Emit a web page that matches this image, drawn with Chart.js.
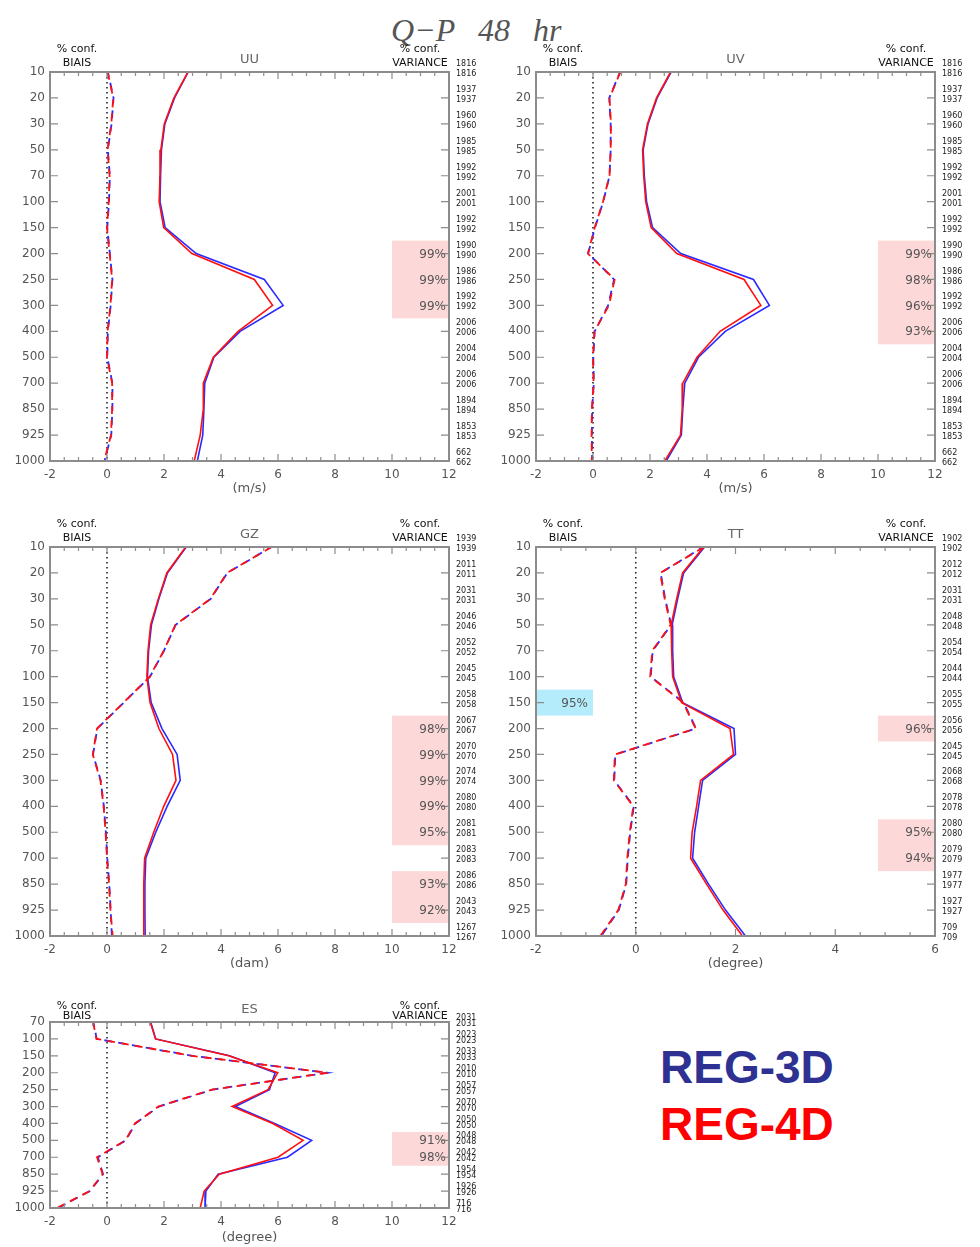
<!DOCTYPE html>
<html>
<head>
<meta charset="utf-8">
<script src="https://cdn.jsdelivr.net/npm/chart.js@4.4.1/dist/chart.umd.min.js"></script>
<style>
  body { margin: 0; background: #fff; }
  #page { position: relative; width: 980px; height: 1247px; overflow: hidden; background: #fff; }
  #page canvas { position: absolute; }
  .ttl { position: absolute; top: 14px; font: italic 32px "Liberation Serif", serif; color: #555; line-height: 32px; white-space: pre; }
  .leg { position: absolute; left: 660px; font: bold 46px "Liberation Sans", Arial, sans-serif; line-height: 46px; }
</style>
</head>
<body>
<div id="page">
  <div class="ttl" style="left:391px">Q−P</div>
  <div class="ttl" style="left:478px">48</div>
  <div class="ttl" style="left:533px">hr</div>
  <div class="leg" style="top:1044px;color:#2e3192">REG-3D</div>
  <div class="leg" style="top:1101px;color:#ff0000">REG-4D</div>
</div>
<script>
// pressure levels (tick labels)
const levels = ['10', '20', '30', '50', '70', '100', '150', '200', '250', '300', '400', '500', '700', '850', '925', '1000'];
const levelsES = ['70', '100', '150', '200', '250', '300', '400', '500', '700', '850', '925', '1000'];

// UU
const uuBias3d = [0.03, 0.23, 0.16, 0.03, 0.10, 0.07, 0.01, 0.10, 0.19, 0.13, 0.03, 0.01, 0.19, 0.19, 0.15, -0.09];
const uuBias4d = [0.02, 0.22, 0.15, 0.02, 0.09, 0.06, 0.00, 0.09, 0.18, 0.12, 0.02, 0.00, 0.18, 0.18, 0.14, -0.10];
const uuStd3d = [2.85, 2.37, 2.03, 1.91, 1.88, 1.86, 2.04, 3.13, 5.52, 6.18, 4.67, 3.75, 3.43, 3.40, 3.36, 3.17];
const uuStd4d = [2.84, 2.35, 2.01, 1.89, 1.86, 1.83, 1.99, 2.98, 5.17, 5.81, 4.60, 3.73, 3.38, 3.38, 3.27, 3.06];
const uuCounts = [1816, 1937, 1960, 1985, 1992, 2001, 1992, 1990, 1986, 1992, 2006, 2004, 2006, 1894, 1853, 662];
const uuVarConf = [null, null, null, null, null, null, null, 99, 99, 99, null, null, null, null, null, null];

// UV
const uvBias3d = [0.95, 0.57, 0.62, 0.62, 0.58, 0.36, 0.07, -0.17, 0.74, 0.53, 0.06, 0.01, 0.03, -0.03, -0.04, -0.03];
const uvBias4d = [0.96, 0.58, 0.63, 0.62, 0.58, 0.35, 0.06, -0.18, 0.76, 0.56, 0.05, 0.00, 0.02, -0.04, -0.05, -0.04];
const uvStd3d = [2.74, 2.25, 1.93, 1.76, 1.80, 1.88, 2.09, 3.08, 5.63, 6.19, 4.64, 3.70, 3.22, 3.15, 3.10, 2.57];
const uvStd4d = [2.72, 2.23, 1.91, 1.74, 1.78, 1.85, 2.04, 2.94, 5.30, 5.89, 4.46, 3.65, 3.15, 3.13, 3.07, 2.52];
const uvCounts = [1816, 1937, 1960, 1985, 1992, 2001, 1992, 1990, 1986, 1992, 2006, 2004, 2006, 1894, 1853, 662];
const uvVarConf = [null, null, null, null, null, null, null, 99, 98, 96, 93, null, null, null, null, null];

// GZ
const gzBias3d = [5.77, 4.22, 3.64, 2.41, 2.00, 1.51, 0.59, -0.34, -0.49, -0.22, -0.11, -0.04, 0.01, 0.08, 0.13, 0.17];
const gzBias4d = [5.78, 4.21, 3.63, 2.40, 1.99, 1.50, 0.58, -0.35, -0.50, -0.23, -0.12, -0.05, 0.00, 0.07, 0.12, 0.20];
const gzStd3d = [2.78, 2.12, 1.82, 1.56, 1.46, 1.42, 1.55, 1.93, 2.46, 2.57, 2.11, 1.71, 1.36, 1.33, 1.33, 1.34];
const gzStd4d = [2.76, 2.10, 1.80, 1.53, 1.44, 1.40, 1.51, 1.82, 2.30, 2.42, 1.99, 1.64, 1.32, 1.29, 1.29, 1.29];
const gzCounts = [1939, 2011, 2031, 2046, 2052, 2045, 2058, 2067, 2070, 2074, 2080, 2081, 2083, 2086, 2043, 1267];
const gzVarConf = [null, null, null, null, null, null, null, 98, 99, 99, 99, 95, null, 93, 92, null];

// TT
const ttBias3d = [1.35, 0.50, 0.59, 0.71, 0.34, 0.30, 0.96, 1.21, -0.41, -0.43, -0.04, -0.11, -0.16, -0.19, -0.34, -0.69];
const ttBias4d = [1.37, 0.49, 0.58, 0.70, 0.33, 0.29, 0.95, 1.20, -0.42, -0.44, -0.05, -0.12, -0.17, -0.20, -0.35, -0.71];
const ttStd3d = [1.38, 0.96, 0.84, 0.73, 0.74, 0.76, 0.94, 1.97, 2.00, 1.34, 1.26, 1.18, 1.14, 1.46, 1.80, 2.20];
const ttStd4d = [1.36, 0.94, 0.82, 0.71, 0.72, 0.74, 0.92, 1.89, 1.96, 1.30, 1.22, 1.13, 1.10, 1.42, 1.75, 2.14];
const ttCounts = [1902, 2012, 2031, 2048, 2054, 2044, 2055, 2056, 2045, 2068, 2078, 2080, 2079, 1977, 1927, 709];
const ttVarConf = [null, null, null, null, null, null, null, 96, null, null, null, 95, 94, null, null, null];
const ttBiasConf = [null, null, null, null, null, null, 95, null, null, null, null, null, null, null, null, null];

// ES
const esBias3d = [-0.48, -0.36, 2.99, 7.74, 3.70, 1.82, 1.00, 0.66, -0.32, -0.14, -0.60, -1.72];
const esBias4d = [-0.49, -0.37, 2.98, 7.76, 3.68, 1.80, 0.98, 0.65, -0.35, -0.15, -0.61, -1.75];
const esStd3d = [1.53, 1.71, 4.30, 5.90, 5.70, 4.50, 5.88, 7.18, 6.33, 3.90, 3.47, 3.44];
const esStd4d = [1.52, 1.70, 4.27, 5.99, 5.65, 4.39, 5.82, 6.88, 6.00, 3.94, 3.41, 3.27];
const esCounts = [2031, 2023, 2033, 2010, 2057, 2070, 2050, 2048, 2042, 1954, 1926, 716];
const esVarConf = [null, null, null, null, null, null, null, 91, 98, null, null, null];

const BLUE = '#2a2aff';
const RED = '#ff1010';
const GREY = '#555';
const FONT = 'DejaVu Sans';

function pts(arr) {
  return arr.map((v, i) => ({ x: v, y: i }));
}

// contiguous runs of non-null entries
function runs(conf) {
  const out = [];
  let start = null;
  conf.forEach((c, i) => {
    if (c != null && start === null) start = i;
    if ((c == null || i === conf.length - 1) && start !== null) {
      out.push([start, c == null ? i - 1 : i]);
      start = null;
    }
  });
  return out;
}

function makePanel(p) {
  const page = document.getElementById('page');
  const cv = document.createElement('canvas');
  const w = p.width + 95, h = p.height + 95;
  cv.width = w; cv.height = h;
  cv.style.left = (p.left - 50) + 'px';
  cv.style.top = (p.top - 50) + 'px';
  cv.style.width = w + 'px';
  cv.style.height = h + 'px';
  page.appendChild(cv);

  const n = p.levels.length;
  const boxW = (p.xMax - p.xMin) / 7;

  const deco = {
    id: 'deco',
    beforeDatasetsDraw(chart) {
      const { ctx, chartArea: a, scales: { x, y } } = chart;
      ctx.save();
      const drawBoxes = (conf, v0, v1, fill) => {
        if (!conf) return;
        ctx.fillStyle = fill;
        runs(conf).forEach(([i0, i1]) => {
          const x0 = x.getPixelForValue(v0), x1 = x.getPixelForValue(v1);
          const y0 = Math.max(a.top, y.getPixelForValue(i0 - 0.5));
          const y1 = Math.min(a.bottom, y.getPixelForValue(i1 + 0.5));
          ctx.fillRect(x0, y0, x1 - x0, y1 - y0);
        });
      };
      drawBoxes(p.varConf, p.xMax - boxW, p.xMax, '#fdd8d8');
      drawBoxes(p.biasConf, p.xMin, p.xMin + boxW, '#b5ecfb');

      // zero line
      const zx = x.getPixelForValue(0);
      ctx.strokeStyle = '#222';
      ctx.lineWidth = 1.6;
      ctx.setLineDash([1.6, 3.4]);
      ctx.beginPath();
      ctx.moveTo(zx, a.top);
      ctx.lineTo(zx, a.bottom);
      ctx.stroke();
      ctx.restore();
    },
    afterDraw(chart) {
      const { ctx, chartArea: a, scales: { x, y } } = chart;
      ctx.save();
      // frame + inward ticks
      ctx.strokeStyle = '#8c8c8c';
      ctx.lineWidth = 2;
      ctx.strokeRect(a.left, a.top, a.right - a.left, a.bottom - a.top);
      ctx.lineWidth = 1.2;
      ctx.beginPath();
      for (let v = p.xMin; v <= p.xMax + 1e-9; v += 0.5) {
        const px = x.getPixelForValue(v);
        const len = Math.abs(v % 2) < 1e-9 ? 7 : 4;
        ctx.moveTo(px, a.bottom); ctx.lineTo(px, a.bottom - len);
        ctx.moveTo(px, a.top); ctx.lineTo(px, a.top + len);
      }
      for (let i = 0; i < n; i++) {
        const py = y.getPixelForValue(i);
        ctx.moveTo(a.left, py); ctx.lineTo(a.left + 8, py);
        ctx.moveTo(a.right, py); ctx.lineTo(a.right - 8, py);
      }
      ctx.stroke();

      // confidence percentages
      ctx.font = '12px "' + FONT + '"';
      ctx.fillStyle = GREY;
      ctx.textAlign = 'right';
      ctx.textBaseline = 'middle';
      (p.varConf || []).forEach((c, i) => {
        if (c == null) return;
        ctx.fillText(c + '%', a.right - 3, y.getPixelForValue(i) + 1);
      });
      (p.biasConf || []).forEach((c, i) => {
        if (c == null) return;
        ctx.fillText(c + '%', x.getPixelForValue(p.xMin + boxW) - 5, y.getPixelForValue(i) + 1);
      });

      // sample counts on the right
      ctx.font = '8px "' + FONT + '"';
      ctx.fillStyle = '#222';
      ctx.textAlign = 'left';
      p.counts.forEach((c, i) => {
        const py = y.getPixelForValue(i);
        ctx.fillText(String(c), a.right + 7, py + p.cntUp);
        ctx.fillText(String(c), a.right + 7, py + p.cntDn);
      });

      // headers
      const cx = (a.left + a.right) / 2;
      ctx.textAlign = 'center';
      ctx.font = '13px "' + FONT + '"';
      ctx.fillStyle = '#666';
      ctx.fillText(p.name, cx, a.top - 12);
      ctx.font = '11px "' + FONT + '"';
      ctx.fillStyle = '#111';
      ctx.fillText('% conf.', a.left + 27, a.top + p.hdr1);
      ctx.fillText('BIAIS', a.left + 27, a.top + p.hdr2);
      ctx.fillText('% conf.', a.right - 29, a.top + p.hdr1);
      ctx.fillText('VARIANCE', a.right - 29, a.top + p.hdr2);
      ctx.restore();
    }
  };

  const dashed = { borderDash: [8, 6], borderWidth: 1.8 };
  new Chart(cv, {
    type: 'line',
    data: {
      datasets: [
        { data: pts(p.bias4d), borderColor: RED, ...dashed },
        { data: pts(p.std4d), borderColor: RED, borderWidth: 1.6 },
        { data: pts(p.bias3d), borderColor: BLUE, ...dashed, borderDashOffset: 3 },
        { data: pts(p.std3d), borderColor: BLUE, borderWidth: 1.6 }
      ]
    },
    options: {
      responsive: false,
      animation: false,
      events: [],
      layout: { padding: { left: 0, top: 50, right: 45, bottom: 0 } },
      elements: { point: { radius: 0 }, line: { tension: 0, fill: false } },
      plugins: { legend: { display: false }, tooltip: { enabled: false } },
      scales: {
        x: {
          type: 'linear',
          min: p.xMin,
          max: p.xMax,
          grid: { display: false, drawTicks: false },
          border: { display: false },
          ticks: { stepSize: 2, padding: 7, autoSkip: false, maxRotation: 0, color: GREY, font: { family: FONT, size: 12 } },
          title: { display: true, text: p.unit, color: GREY, font: { family: FONT, size: 13 }, padding: { top: 0, bottom: p.unitPad } },
          afterFit(s) { s.height = 45; s.paddingLeft = 0; s.paddingRight = 0; }
        },
        y: {
          type: 'linear',
          reverse: true,
          min: 0,
          max: n - 1,
          grid: { display: false, drawTicks: false },
          border: { display: false },
          ticks: {
            stepSize: 1, autoSkip: false, padding: 5, color: GREY, font: { family: FONT, size: 12 },
            callback: v => p.levels[v] ?? ''
          },
          afterFit(s) { s.width = 50; s.paddingTop = 0; s.paddingBottom = 0; }
        }
      }
    },
    plugins: [deco]
  });
}

const big = { cntUp: -8, cntDn: 2, hdr1: -23, hdr2: -9, unitPad: 9.2 };

makePanel({ ...big, name: 'UU', unit: '(m/s)', left: 50, top: 72, width: 399, height: 389,
  xMin: -2, xMax: 12, levels: levels, bias3d: uuBias3d, bias4d: uuBias4d, std3d: uuStd3d, std4d: uuStd4d,
  counts: uuCounts, varConf: uuVarConf });

makePanel({ ...big, name: 'UV', unit: '(m/s)', left: 536, top: 72, width: 399, height: 389,
  xMin: -2, xMax: 12, levels: levels, bias3d: uvBias3d, bias4d: uvBias4d, std3d: uvStd3d, std4d: uvStd4d,
  counts: uvCounts, varConf: uvVarConf });

makePanel({ ...big, name: 'GZ', unit: '(dam)', left: 50, top: 547, width: 399, height: 389,
  xMin: -2, xMax: 12, levels: levels, bias3d: gzBias3d, bias4d: gzBias4d, std3d: gzStd3d, std4d: gzStd4d,
  counts: gzCounts, varConf: gzVarConf });

makePanel({ ...big, name: 'TT', unit: '(degree)', left: 536, top: 547, width: 399, height: 389,
  xMin: -2, xMax: 6, levels: levels, bias3d: ttBias3d, bias4d: ttBias4d, std3d: ttStd3d, std4d: ttStd4d,
  counts: ttCounts, varConf: ttVarConf, biasConf: ttBiasConf });

makePanel({ cntUp: -4, cntDn: 2, hdr1: -16, hdr2: -6, unitPad: 7.2, name: 'ES', unit: '(degree)',
  left: 50, top: 1022, width: 399, height: 186,
  xMin: -2, xMax: 12, levels: levelsES, bias3d: esBias3d, bias4d: esBias4d, std3d: esStd3d, std4d: esStd4d,
  counts: esCounts, varConf: esVarConf });
</script>
</body>
</html>
